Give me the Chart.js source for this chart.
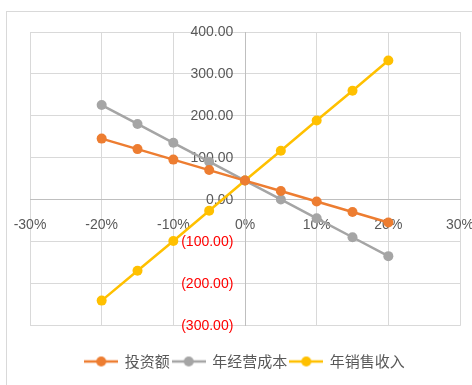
<!DOCTYPE html>
<html>
<head>
<meta charset="utf-8">
<script src="https://cdn.jsdelivr.net/npm/chart.js@4/dist/chart.umd.min.js"></script>
<style>
  body { margin: 0; background: #fff; overflow: hidden; }
  #frame { position: absolute; left: 6px; top: 11px; width: 480px; height: 400px; border: 1px solid #D9D9D9; }
  #chart { position: absolute; left: 0; top: 0; }
</style>
</head>
<body>
<div id="frame"></div>
<canvas id="chart" width="472" height="385"></canvas>
<script>
// Variation du facteur (x) et VAN résultante pour chaque facteur
const changes = [-0.20, -0.15, -0.10, -0.05, 0, 0.05, 0.10, 0.15, 0.20];
const investment = [146, 121, 96, 71, 46, 21, -4, -29, -54];     // 投资额
const operatingCost = [226, 181, 136, 91, 46, 1, -44, -89, -134]; // 年经营成本
const salesRevenue = [-240, -169, -98, -26, 46, 117, 189, 260, 332]; // 年销售收入
const seriesNames = ["投资额", "年经营成本", "年销售收入"];
const COLORS = ["#ED7D31", "#A5A5A5", "#FFC000"];

const TEXT = "#595959";
const GRID = "#D9D9D9";

function toPoints(values) {
  return changes.map((x, i) => ({ x, y: values[i] }));
}

// petite vignette "trait + rond" pour la légende, comme dans Excel
function legendMarker(color) {
  const c = document.createElement("canvas");
  c.width = 34; c.height = 12;
  const g = c.getContext("2d");
  g.strokeStyle = color;
  g.lineWidth = 2.5;
  g.beginPath(); g.moveTo(0, 6); g.lineTo(34, 6); g.stroke();
  g.fillStyle = color;
  g.beginPath(); g.arc(17, 6, 5, 0, Math.PI * 2); g.fill();
  return c;
}

// les axes centrés ne doivent pas réserver de marge pour leurs libellés
function noPadding(scale) {
  scale.paddingLeft = 0;
  scale.paddingRight = 0;
  scale.paddingTop = 0;
  scale.paddingBottom = 0;
}

const datasets = [investment, operatingCost, salesRevenue].map((vals, i) => ({
  label: seriesNames[i],
  data: toPoints(vals),
  showLine: true,
  borderColor: COLORS[i],
  backgroundColor: COLORS[i],
  borderWidth: 2.5,
  pointRadius: 5,
  pointHoverRadius: 5,
  pointBorderWidth: 0
}));

// format Excel : négatifs entre parenthèses ; les espaces décollent le libellé de l'axe
function formatY(v) {
  const s = Math.abs(v).toFixed(2);
  return (v < 0 ? `(${s})` : s) + "   ";
}

new Chart(document.getElementById("chart").getContext("2d"), {
  type: "scatter",
  data: { datasets },
  options: {
    responsive: false,
    animation: false,
    layout: { padding: { left: 30, right: 12, top: 32, bottom: 6 } },
    plugins: {
      tooltip: { enabled: false },
      legend: {
        position: "bottom",
        title: { display: true, text: "", font: { size: 1 }, padding: { top: 24, bottom: 0 } },
        labels: {
          color: TEXT,
          font: { family: "'Noto Sans CJK SC', 'Noto Sans'", size: 15 },
          usePointStyle: true,
          pointStyleWidth: 32,
          padding: 3,
          generateLabels: (chart) => chart.data.datasets.map((ds, i) => ({
            text: ds.label,
            fontColor: TEXT,
            pointStyle: legendMarker(ds.borderColor),
            datasetIndex: i,
            lineWidth: 0,
            hidden: false
          }))
        }
      }
    },
    scales: {
      x: {
        type: "linear",
        position: { y: 0 },
        min: -0.3, max: 0.3,
        afterFit: noPadding,
        ticks: {
          stepSize: 0.1,
          color: TEXT,
          padding: 17,
          font: { family: "'Liberation Sans'", size: 14 },
          callback: (v) => Math.round(v * 100) + "%"
        },
        grid: { color: GRID, lineWidth: 1, drawTicks: false },
        border: { color: "#BFBFBF", width: 1 }
      },
      y: {
        type: "linear",
        position: { x: 0 },
        min: -300, max: 400,
        afterFit: noPadding,
        ticks: {
          stepSize: 100,
          font: { family: "'Liberation Sans'", size: 14 },
          color: (ctx) => ctx.tick && ctx.tick.value < 0 ? "#FF0000" : TEXT,
          callback: (v) => formatY(v)
        },
        grid: { color: GRID, lineWidth: 1, drawTicks: false },
        border: { color: "#BFBFBF", width: 1 }
      }
    }
  }
});
</script>
</body>
</html>
